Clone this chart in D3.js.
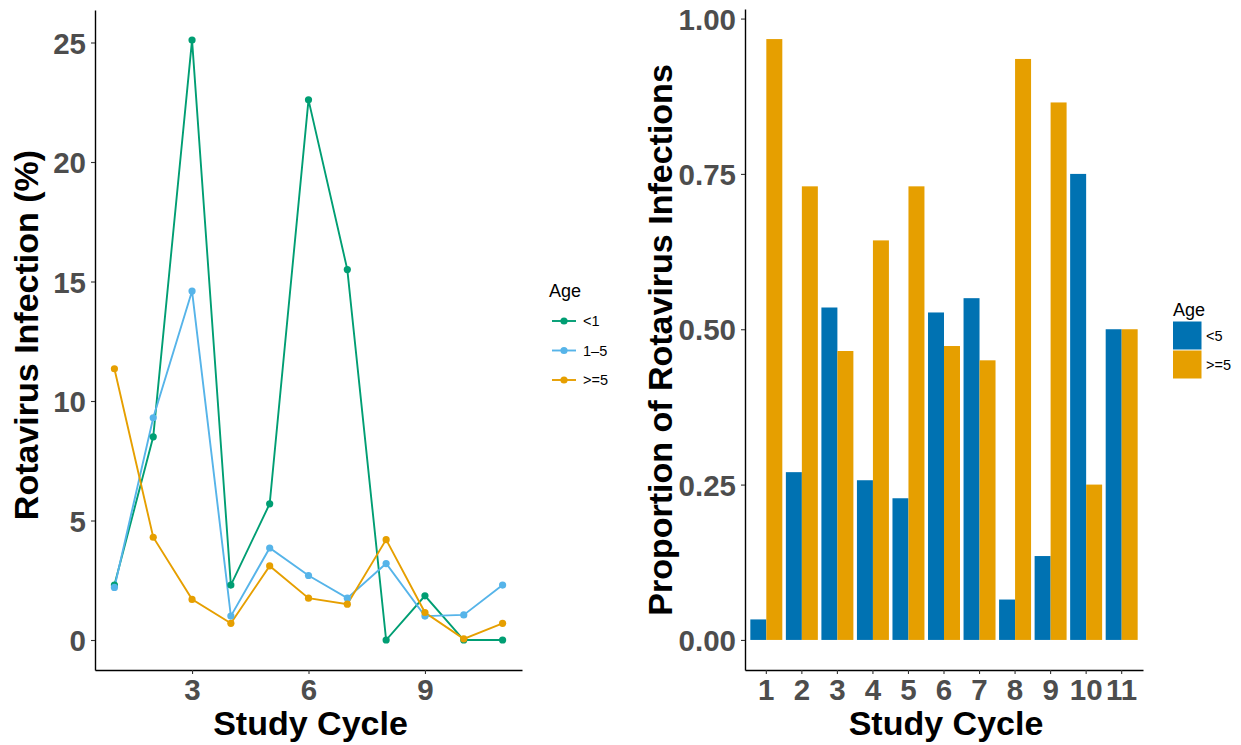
<!DOCTYPE html>
<html>
<head>
<meta charset="utf-8">
<script src="https://cdn.jsdelivr.net/npm/d3@7"></script>
<style>
  body { margin: 0; background: #fff; }
  text { font-family: "Liberation Sans", Arial, sans-serif; }
</style>
</head>
<body>
<div id="chart"></div>
<script>
// Data
var cycles = [1, 2, 3, 4, 5, 6, 7, 8, 9, 10, 11]
var ageGroups = ["<1", "1\u20135", ">=5"]
var under1 = [2.3, 8.5, 25.1, 2.3, 5.7, 22.6, 15.5, 0, 1.85, 0, 0]
var age1to5 = [2.2, 9.3, 14.6, 1.0, 3.85, 2.7, 1.75, 3.2, 1.0, 1.05, 2.3]
var age5plus = [11.35, 4.3, 1.7, 0.7, 3.1, 1.75, 1.5, 4.2, 1.15, 0.05, 0.7]
var leftYTicks = [0, 5, 10, 15, 20, 25]
var leftXTicks = [3, 6, 9]

var propGroups = ["<5", ">=5"]
var propUnder5 = [0.033, 0.27, 0.535, 0.257, 0.228, 0.527, 0.55, 0.065, 0.135, 0.75, 0.5]
var propOver5 = [0.967, 0.73, 0.465, 0.643, 0.73, 0.473, 0.45, 0.935, 0.865, 0.25, 0.5]
var rightYTicks = [0, 0.25, 0.5, 0.75, 1]

// Global parameters
var width = 1241;
var height = 745;
var lineColors = ["#009E73", "#56B4E9", "#E69F00"]
var barColors = ["#0072B2", "#E69F00"]
var tickColor = "#4D4D4D"
var tickSize = 29.5
var titleSize = 34

var svg = d3.select("#chart").append("svg")
            .attr("width", width).attr("height", height)

// ---------- Left panel: line chart ----------
var left = {x0: 95, x1: 522, y0: 670, y1: 10}

var xLeft = d3.scaleLinear().domain([0.5, 11.5]).range([left.x0, left.x1])
var yLeft = d3.scaleLinear().domain([-1.255, 26.36]).range([left.y0, left.y1])

function styleAxis(g) {
  g.select(".domain").attr("stroke", "black").attr("stroke-width", 1.4)
  g.selectAll(".tick line").attr("stroke", "#333").attr("stroke-width", 1.1)
  g.selectAll(".tick text").attr("fill", tickColor).attr("font-size", tickSize)
   .attr("font-weight", "bold").attr("font-family", "Liberation Sans, Arial, sans-serif")
}

svg.append("g")
   .attr("transform", "translate(0," + left.y0 + ")")
   .call(d3.axisBottom(xLeft).tickValues(leftXTicks).tickSize(4).tickSizeOuter(0).tickPadding(5))
   .call(styleAxis)

svg.append("g")
   .attr("transform", "translate(" + left.x0 + ",0)")
   .call(d3.axisLeft(yLeft).tickValues(leftYTicks).tickSize(4).tickSizeOuter(0).tickPadding(5))
   .call(styleAxis)
   .selectAll(".tick text").attr("dy", "0.36em")

var series = [under1, age1to5, age5plus]
var line = d3.line().x((d, i) => xLeft(cycles[i])).y((d) => yLeft(d))

series.forEach(function(s, k) {
  svg.append("path").datum(s).attr("d", line)
     .attr("fill", "none").attr("stroke", lineColors[k]).attr("stroke-width", 1.9)
})
series.forEach(function(s, k) {
  svg.selectAll(".pt" + k).data(s).enter().append("circle")
     .attr("cx", (d, i) => xLeft(cycles[i])).attr("cy", (d) => yLeft(d))
     .attr("r", 3.6).attr("fill", lineColors[k])
})

// axis titles
svg.append("text").attr("x", (left.x0 + left.x1) / 2 + 2).attr("y", 735)
   .attr("text-anchor", "middle").attr("font-size", titleSize).attr("font-weight", "bold")
   .text("Study Cycle")

svg.append("text").attr("transform", "translate(38," + 335 + ") rotate(-90)")
   .attr("text-anchor", "middle").attr("font-size", titleSize).attr("font-weight", "bold")
   .text("Rotavirus Infection (%)")

// legend
svg.append("text").attr("x", 549).attr("y", 297).attr("font-size", 18).text("Age")
var legL = svg.selectAll(".legL").data(ageGroups).enter().append("g")
              .attr("transform", (d, i) => "translate(0," + (321 + i * 29.5) + ")")
legL.append("line").attr("x1", 552).attr("x2", 576)
    .attr("stroke", (d, i) => lineColors[i]).attr("stroke-width", 1.9)
legL.append("circle").attr("cx", 564).attr("r", 3.6).attr("fill", (d, i) => lineColors[i])
legL.append("text").attr("x", 583).attr("y", 5).attr("font-size", 14.5).text((d) => d)

// ---------- Right panel: grouped bars ----------
var right = {x0: 745, x1: 1143, y0: 670, y1: 9}

var xRight = d3.scaleBand().domain(cycles).range([right.x0, right.x1])
               .paddingInner(0.1).paddingOuter(0.15)
var xSub = d3.scaleBand().domain(propGroups).range([0, xRight.bandwidth()])
var yRight = d3.scaleLinear().domain([-0.0484, 1.0154]).range([right.y0, right.y1])

svg.append("g")
   .attr("transform", "translate(0," + right.y0 + ")")
   .call(d3.axisBottom(xRight).tickSize(4).tickSizeOuter(0).tickPadding(5))
   .call(styleAxis)

svg.append("g")
   .attr("transform", "translate(" + right.x0 + ",0)")
   .call(d3.axisLeft(yRight).tickValues(rightYTicks).tickFormat(d3.format(".2f"))
            .tickSize(4).tickSizeOuter(0).tickPadding(5))
   .call(styleAxis)
   .selectAll(".tick text").attr("dy", "0.36em")

var barSeries = [propUnder5, propOver5]
barSeries.forEach(function(s, k) {
  svg.selectAll(".bar" + k).data(s).enter().append("rect")
     .attr("x", (d, i) => xRight(cycles[i]) + xSub(propGroups[k]))
     .attr("width", xSub.bandwidth())
     .attr("y", (d) => yRight(d))
     .attr("height", (d) => yRight(0) - yRight(d))
     .attr("fill", barColors[k])
})

svg.append("text").attr("x", (right.x0 + right.x1) / 2 + 2).attr("y", 735)
   .attr("text-anchor", "middle").attr("font-size", titleSize).attr("font-weight", "bold")
   .text("Study Cycle")

svg.append("text").attr("transform", "translate(672," + 340 + ") rotate(-90)")
   .attr("text-anchor", "middle").attr("font-size", titleSize).attr("font-weight", "bold")
   .text("Proportion of Rotavirus Infections")

// legend
svg.append("text").attr("x", 1173).attr("y", 316).attr("font-size", 18).text("Age")
var legR = svg.selectAll(".legR").data(propGroups).enter().append("g")
              .attr("transform", (d, i) => "translate(1173," + (321.5 + i * 29) + ")")
legR.append("rect").attr("width", 28.5).attr("height", 28).attr("fill", (d, i) => barColors[i])
legR.append("text").attr("x", 33).attr("y", 19).attr("font-size", 14.5).text((d) => d)
</script>
</body>
</html>
